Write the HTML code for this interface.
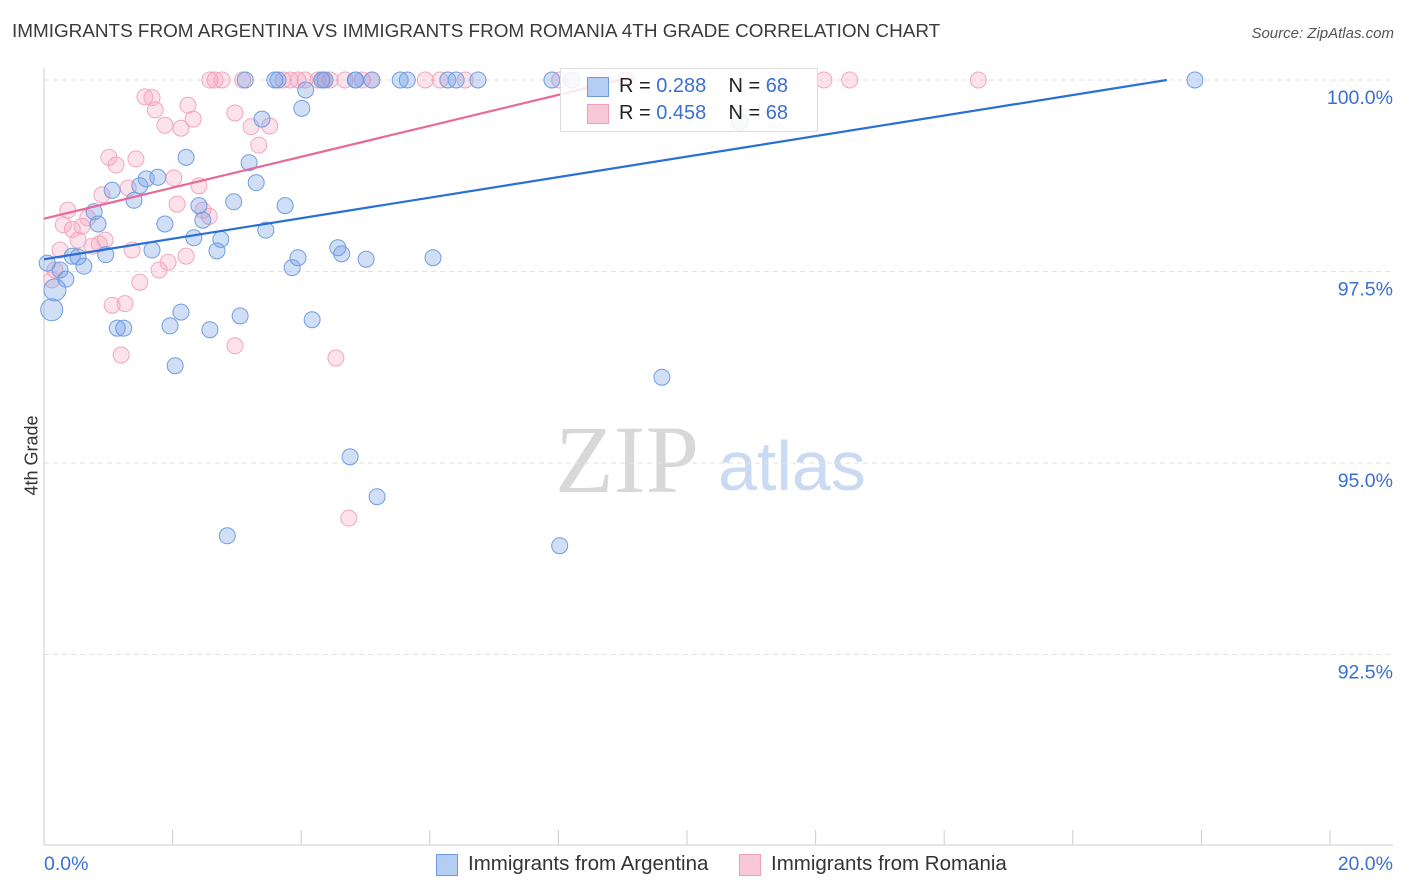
<!DOCTYPE html>
<html><head><meta charset="utf-8">
<style>
body{margin:0;background:#fff;font-family:"Liberation Sans",sans-serif;}
#wrap{position:relative;width:1406px;height:892px;overflow:hidden;}
.t{position:absolute;white-space:nowrap;}
</style></head>
<body><div id="wrap">
<div class="t" style="left:12px;top:21px;font-size:18.9px;color:#3a3a3a;">IMMIGRANTS FROM ARGENTINA VS IMMIGRANTS FROM ROMANIA 4TH GRADE CORRELATION CHART</div>
<div class="t" style="right:12px;top:25px;font-size:15px;color:#555;font-style:italic;">Source: ZipAtlas.com</div>
<div class="t" style="left:-8px;top:445px;font-size:18px;color:#333;transform:rotate(-90deg);">4th Grade</div>
<svg id="svg" width="1406" height="892" style="position:absolute;left:0;top:0">
<text x="555" y="492" font-family="Liberation Serif,serif" font-size="96" fill="#d8d8d8">ZIP</text>
<text x="718" y="490" font-family="Liberation Sans,sans-serif" font-size="70" fill="#c9daf2">atlas</text>
<g id="grid"></g><g id="pts"></g><g id="lines"></g>
</svg>
<div style="position:absolute;left:560px;top:68px;width:256px;height:62px;border:1px solid #ddd;background:rgba(255,255,255,0.85);font-size:20px;color:#222;">
<div style="position:absolute;left:26px;top:8px;width:20px;height:18px;background:#b5cdf3;border:1px solid #6b9be0;"></div>
<div class="t" style="left:58px;top:6px;">R = <span style="color:#3b6fd4">0.288</span>&nbsp;&nbsp;&nbsp; N = <span style="color:#3b6fd4">68</span></div>
<div style="position:absolute;left:26px;top:35px;width:20px;height:18px;background:#f8c8d8;border:1px solid #f0a0bd;"></div>
<div class="t" style="left:58px;top:33px;">R = <span style="color:#3b6fd4">0.458</span>&nbsp;&nbsp;&nbsp; N = <span style="color:#3b6fd4">68</span></div>
</div>
<div style="position:absolute;left:436px;top:854px;">
<div style="position:absolute;left:0;top:0;width:20px;height:20px;background:#b5cdf3;border:1px solid #6b9be0;"></div>
<div class="t" style="left:32px;top:-2px;font-size:20.5px;color:#333;">Immigrants from Argentina</div></div>
<div style="position:absolute;left:739px;top:854px;">
<div style="position:absolute;left:0;top:0;width:20px;height:20px;background:#f8c8d8;border:1px solid #f0a0bd;"></div>
<div class="t" style="left:32px;top:-2px;font-size:20.5px;color:#333;">Immigrants from Romania</div></div>
</div>
<script>
const blueX=[0.12,0.17,0.25,0.34,0.44,0.53,0.62,0.78,0.84,0.96,1.06,1.14,1.24,1.40,1.49,1.59,1.68,1.77,1.88,1.96,2.04,2.13,2.21,2.33,2.41,2.47,2.58,2.69,2.75,2.85,2.95,3.05,3.19,3.30,3.39,3.45,3.64,3.75,3.86,3.95,4.01,4.07,4.17,4.37,4.57,4.63,4.76,4.85,5.01,5.10,5.18,5.54,5.65,6.05,6.28,6.41,6.75,7.90,8.02,8.21,9.61,10.82,17.90,3.13,3.59,4.84,4.32,0.05];
const blueY=[97.00,97.26,97.52,97.40,97.70,97.69,97.57,98.28,98.12,97.72,98.56,96.76,96.76,98.43,98.62,98.71,97.78,98.73,98.12,96.79,96.27,96.97,98.99,97.94,98.36,98.17,96.74,97.77,97.92,94.05,98.41,96.92,98.92,98.66,99.49,98.04,100,98.36,97.55,97.68,99.63,99.87,96.87,100,97.81,97.73,95.08,100,97.66,100,94.56,100,100,97.68,100,100,100,100,93.92,100,96.12,99.45,100,100,100,100,100,97.61];
const pinkX=[0.12,0.17,0.25,0.30,0.37,0.44,0.53,0.59,0.68,0.75,0.86,0.90,0.95,1.01,1.06,1.12,1.20,1.26,1.31,1.37,1.43,1.49,1.57,1.68,1.73,1.79,1.88,1.93,2.02,2.07,2.13,2.21,2.24,2.32,2.41,2.47,2.57,2.58,2.66,2.77,2.97,2.97,3.09,3.22,3.34,3.51,3.72,3.83,3.95,4.06,4.26,4.34,4.45,4.54,4.68,4.74,4.95,5.10,5.93,6.16,6.55,8.65,9.04,9.08,12.13,12.53,14.53,8.02];
const pinkY=[97.39,97.52,97.78,98.11,98.30,98.05,97.91,98.09,98.20,97.83,97.86,98.50,97.91,98.99,97.06,98.89,96.41,97.08,98.59,97.78,98.97,97.36,99.78,99.77,99.61,97.52,99.41,97.62,98.72,98.38,99.37,97.70,99.67,99.49,98.62,98.30,98.22,100,100,100,99.57,96.53,100,99.39,99.15,99.40,100,100,100,100,100,100,100,96.37,100,94.28,100,100,100,100,100,100,100,100,100,100,100,100];
const trendBlue=[97.66,0.134];
const trendPink=[98.19,0.202];
const yTicks=[100,97.5,95,92.5];
const yTickLabels=["100.0%","97.5%","95.0%","92.5%"];
const xTicks=[0,2,4,6,8,10,12,14,16,18,20];
const xEndLabels=["0.0%","20.0%"];
const NS="http://www.w3.org/2000/svg";
const sx=v=>44+v*64.3, sy=v=>80+(100-v)*76.6;
function mk(tag,attrs,parent){const e=document.createElementNS(NS,tag);for(const k in attrs)e.setAttribute(k,attrs[k]);parent.appendChild(e);return e;}
const grid=document.getElementById('grid'),pts=document.getElementById('pts'),lines=document.getElementById('lines');
yTicks.forEach((t,i)=>{
 const l=mk('line',{x1:44,x2:1393,y1:sy(t),y2:sy(t),stroke:'#e2e2e2','stroke-dasharray':'5,4'},grid);
 
 
 const tx=mk('text',{x:1393,y:sy(t)+24,'text-anchor':'end','font-size':19.5,fill:'#3b6fd4','font-family':'Liberation Sans,sans-serif'},grid);
 tx.textContent=yTickLabels[i];
 
 
});
const ya=mk('line',{x1:44,x2:44,y1:68,y2:845,stroke:'#ccc'},grid);


const xa=mk('line',{x1:44,x2:1393,y1:845,y2:845,stroke:'#ccc'},grid);


xTicks.forEach(t=>{const k=mk('line',{x1:sx(t),x2:sx(t),y1:830,y2:845,stroke:'#ccc'},grid);
 
 });
const xl0=mk('text',{x:44,y:870,'font-size':19.5,fill:'#3b6fd4','font-family':'Liberation Sans,sans-serif'},grid);xl0.textContent=xEndLabels[0];


const xl1=mk('text',{x:1393,y:870,'text-anchor':'end','font-size':19.5,fill:'#3b6fd4','font-family':'Liberation Sans,sans-serif'},grid);xl1.textContent=xEndLabels[1];


function dots(X,Y,fill,stroke,name){X.forEach((x,i)=>{const r=(i<2&&name==='argentina-point')?11:8;
 const c=mk('circle',{cx:sx(x),cy:sy(Y[i]),r:r,fill:fill,stroke:stroke,'stroke-width':1},pts);
 
 });}
dots(pinkX,pinkY,'rgba(244,160,190,0.3)','#f2a6c0','romania-point');
dots(blueX,blueY,'rgba(120,160,230,0.35)','#6f9ee2','argentina-point');
function trend(tr,color,name){const xe=Math.min(20,(100-tr[0])/tr[1]);
 const l=mk('line',{x1:sx(0),y1:sy(tr[0]),x2:sx(xe),y2:sy(tr[0]+tr[1]*xe),stroke:color,'stroke-width':2.2},lines);
 
 }
trend(trendBlue,'#2a6fd6','argentina-trendline');
trend(trendPink,'#e86b96','romania-trendline');
</script>
</body></html>
